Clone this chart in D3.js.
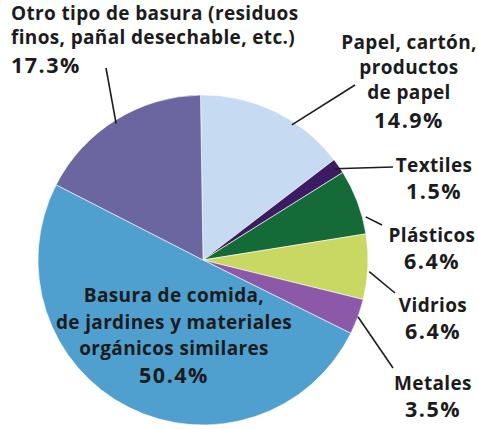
<!DOCTYPE html>
<html>
<head>
<meta charset="utf-8">
<script src="https://cdn.jsdelivr.net/npm/d3@7"></script>
<style>
  body { margin: 0; background: #fff; }
  svg text { font-family: "Open Sans", Lato, sans-serif; font-weight: bold; fill: #1c1c1c; }
</style>
</head>
<body>
<div id="chart"></div>
<script>
// Data
var categories = [
  "Papel, cartón,|productos|de papel",
  "Textiles",
  "Plásticos",
  "Vidrios",
  "Metales",
  "Basura de comida,|de jardines y materiales|orgánicos similares",
  "Otro tipo de basura (residuos|finos, pañal desechable, etc.)"
];
var values = [14.9, 1.5, 6.4, 6.4, 3.5, 50.4, 17.3];
var colors = ["#c6daf1", "#3d1b62", "#156b38", "#c9d862", "#8c58a8", "#4f9fcf", "#6b66a0"];

// Layout for the labels (positions only)
var labelLayout = [
  {x: 409, y: 49, anchor: "middle", lh: 25, gap: 4, t: 0.64, k: 0.98, lx: 355, ly: 85},
  {x: 434, y: 172, anchor: "middle", lh: 27, gap: 0, t: 0.5, k: 0.97, lx: 393, ly: 167},
  {x: 432, y: 242, anchor: "middle", lh: 27, gap: 0, t: 0.75, k: 1.02, lx: 382, ly: 225},
  {x: 433, y: 312, anchor: "middle", lh: 27, gap: 0, t: 0.57, k: 1.01, lx: 395, ly: 293},
  {x: 433, y: 390, anchor: "middle", lh: 27, gap: 0, t: 0.5, k: 1.0, lx: 393, ly: 368},
  {x: 174, y: 302, anchor: "middle", lh: 26.5, gap: 1, t: null},
  {x: 11, y: 20, anchor: "start", lh: 24, gap: 5, t: 0.49, k: 0.98, lx: 106, ly: 68}
];

var width = 478, height = 429;
var cx = 203, cy = 260, radius = 165;

var svg = d3.select("#chart").append("svg")
  .attr("width", width)
  .attr("height", height);

var pie = d3.pie().sort(null).startAngle(-0.015).endAngle(2 * Math.PI - 0.015);
var arcs = pie(values);
var arc = d3.arc().innerRadius(0).outerRadius(radius);

var pieGroup = svg.append("g")
  .attr("transform", `translate(${cx}, ${cy})`);

pieGroup.selectAll("path")
  .data(arcs)
  .enter()
  .append("path")
  .attr("d", arc)
  .attr("fill", (d, i) => colors[i])
  .attr("stroke", "#fff")
  .attr("stroke-width", 0.6);

// Leader lines
arcs.forEach(function(d, i) {
  var L = labelLayout[i];
  if (L.t === null) return;
  var a = d.startAngle + L.t * (d.endAngle - d.startAngle);
  var r = radius * L.k;
  svg.append("line")
    .attr("x1", cx + r * Math.sin(a))
    .attr("y1", cy - r * Math.cos(a))
    .attr("x2", L.lx)
    .attr("y2", L.ly)
    .attr("stroke", "#1c1c1c")
    .attr("stroke-width", 1.6);
});

// Labels
var fmt = d3.format(".1f");
categories.forEach(function(c, i) {
  var L = labelLayout[i];
  var lines = c.split("|");
  var text = svg.append("text")
    .attr("text-anchor", L.anchor)
    .attr("font-size", 19)
    .attr("letter-spacing", 0.35);
  lines.forEach(function(s, j) {
    text.append("tspan")
      .attr("x", L.x)
      .attr("y", L.y + j * L.lh)
      .text(s);
  });
  text.append("tspan")
    .attr("x", L.x)
    .attr("y", L.y + lines.length * L.lh + L.gap)
    .attr("font-size", 21.5)
    .attr("letter-spacing", 1.5)
    .text(fmt(values[i]) + "%");
});
</script>
</body>
</html>
